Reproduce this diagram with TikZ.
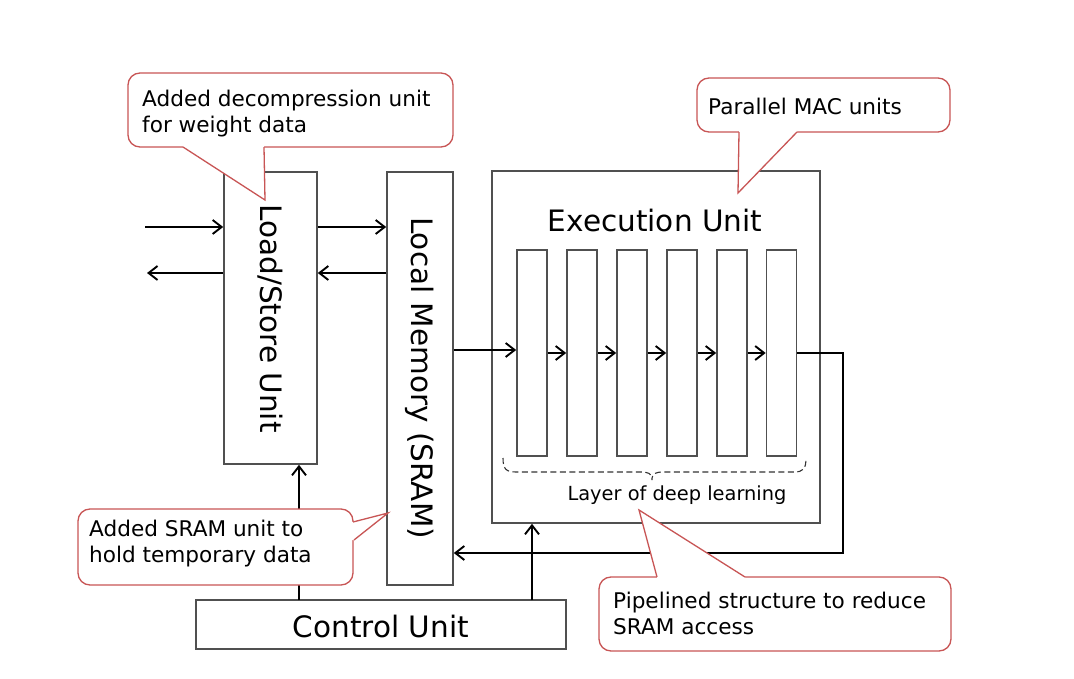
\documentclass[tikz,border=0pt]{standalone}
\usepackage{fontspec}
\setmainfont{DejaVu Sans}
\usetikzlibrary{arrows.meta}
\definecolor{boxgray}{RGB}{80,80,80}
\definecolor{callred}{RGB}{200,85,85}
\begin{document}
\begin{tikzpicture}[x=1pt,y=-1pt,
  blk/.style={draw=boxgray,line width=1.6pt,fill=white,inner sep=0pt,rectangle},
  arr/.style={line width=2.2pt,-{Straight Barb[length=9pt,width=14pt,line width=1.9pt]}},
  big/.style={font=\fontsize{29.5}{34}\selectfont,inner sep=0pt},
  calltxt/.style={font=\fontsize{21.6}{26.5}\selectfont,inner sep=0pt,align=left},
  callbox/.style={draw=callred,line width=1.3pt,fill=white,rounded corners=12pt,inner sep=0pt},
  cline/.style={draw=callred,line width=1.3pt,line join=miter},
  brace/.style={line width=1.1pt,dash pattern=on 6pt off 3.5pt,draw=black!80}
]
\useasboundingbox[fill=white] (0,0) rectangle (1074,679);

% main blocks
\node[blk,minimum width=93pt,minimum height=292pt] (ls) at (270.5,318) {};
\node[big,rotate=-90] (lstxt) at (270,318.5) {Load/Store Unit};
\node[blk,minimum width=66pt,minimum height=413pt] (lm) at (420,378.5) {};
\node[big,rotate=-90] (lmtxt) at (420,378) {Local Memory (SRAM)};
\node[blk,minimum width=328pt,minimum height=352pt] (ex) at (656,347) {};
\node[big,anchor=base] (extxt) at (655,232) {Execution Unit};
\node[blk,minimum width=370pt,minimum height=49pt] (cu) at (381,624.5) {};
\node[big,anchor=base] (cutxt) at (381,637) {Control Unit};

% MAC bars
\foreach \i/\x in {1/532,2/582,3/632,4/682,5/732,6/781.5}{
  \node[blk,minimum width=30pt,minimum height=206pt] (b\i) at (\x,353) {};
}

% connectors
\coordinate (inL) at (145,227);
\coordinate (outL) at (147,273);
\draw[arr] (inL) -- (inL -| ls.west);
\draw[arr] (outL -| ls.west) -- (outL);
\draw[arr] (inL -| ls.east) -- (inL -| lm.west);
\draw[arr] (outL -| lm.west) -- (outL -| ls.east);
\coordinate (m1) at (453,350);
\draw[arr] (m1 -| lm.east) -- (m1 -| b1.west);
\foreach \a/\b in {1/2,2/3,3/4,4/5,5/6}{
  \draw[arr] (b\a.east) -- (b\b.west);
}
\coordinate (fb) at (843,553);
\draw[arr,line join=miter] (b6.east) -| (fb) -- (fb -| lm.east);
\coordinate (c1) at (299,600);
\draw[arr] (c1) -- (c1 |- ls.south);
\coordinate (c2) at (532,600);
\draw[arr] (c2) -- (c2 |- ex.south);

% brace
\draw[brace] (503,458) .. controls (503,469) and (506,472) .. (516,472) -- (640,472)
  .. controls (648,472) and (652,473) .. (652,480)
  .. controls (652,473) and (656,472) .. (664,472) -- (794,472)
  .. controls (803,472) and (806,469) .. (806,458);
\node[font=\fontsize{19.4}{23}\selectfont,inner sep=0pt,anchor=base] (layer) at (677,500) {Layer of deep learning};

% callout 1
\node[callbox,minimum width=325pt,minimum height=74pt] (k1) at (290.5,110) {};
\fill[white] (183,144) -- (183,147) -- (265,200) -- (264,147) -- (264,144) -- cycle;
\draw[cline] (183,147) -- (265,200) -- (264,147);
\node[calltxt,anchor=west] (t1) at (142,113.5) {Added decompression unit\\for weight data};

% callout 2
\node[callbox,minimum width=253pt,minimum height=54pt] (k2) at (823.5,105) {};
\fill[white] (739,129) -- (739,132) -- (738,193) -- (797,132) -- (797,129) -- cycle;
\draw[cline] (739,132) -- (738,193) -- (797,132);
\node[calltxt,anchor=base west] (t2) at (708,115) {Parallel MAC units};

% callout 3
\node[callbox,minimum width=275pt,minimum height=76pt] (k3) at (215.5,547) {};
\fill[white] (350,522) -- (353,522) -- (388,513) -- (354,540) -- (350,540) -- cycle;
\draw[cline] (353,522) -- (388,513) -- (354,540);
\node[calltxt,anchor=west] (t3) at (89,543.5) {Added SRAM unit to\\hold temporary data};

% callout 4
\node[callbox,minimum width=352pt,minimum height=74pt] (k4) at (775,614) {};
\fill[white] (657,580) -- (657,577) -- (639,510) -- (745,577) -- (745,580) -- cycle;
\draw[cline] (657,577) -- (639,510) -- (745,577);
\node[calltxt,anchor=west] (t4) at (613,613.4) {Pipelined structure to reduce\\SRAM access};
\end{tikzpicture}
\end{document}
